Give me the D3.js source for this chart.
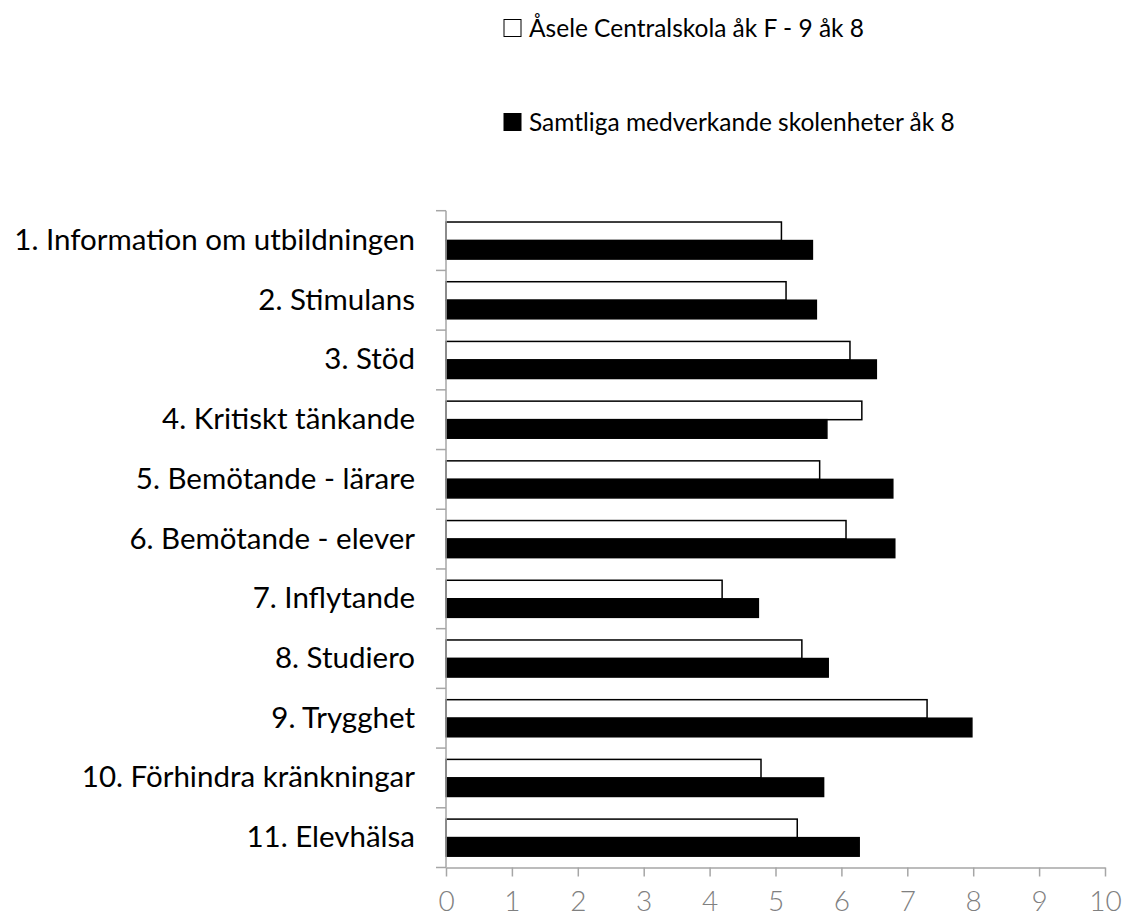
<!DOCTYPE html>
<html>
<head>
<meta charset="utf-8">
<script src="https://cdn.jsdelivr.net/npm/d3@7"></script>
<style>
  body { margin: 0; background: #fff; }
  text { font-family: Lato, "Noto Sans", sans-serif; }
</style>
</head>
<body>
<svg id="chart" width="1132" height="917"></svg>
<script>
const categories = [
  '1. Information om utbildningen',
  '2. Stimulans',
  '3. Stöd',
  '4. Kritiskt tänkande',
  '5. Bemötande - lärare',
  '6. Bemötande - elever',
  '7. Inflytande',
  '8. Studiero',
  '9. Trygghet',
  '10. Förhindra kränkningar',
  '11. Elevhälsa'
];

const seriesNames = [
  'Åsele Centralskola åk F - 9 åk 8',
  'Samtliga medverkande skolenheter åk 8'
];

const skolaValues = [5.09, 5.16, 6.13, 6.31, 5.67, 6.07, 4.19, 5.40, 7.30, 4.78, 5.33];
const samtligaValues = [5.56, 5.62, 6.53, 5.78, 6.78, 6.81, 4.74, 5.80, 7.98, 5.73, 6.27];

const xTicks = [0, 1, 2, 3, 4, 5, 6, 7, 8, 9, 10];

const fills = ['#ffffff', '#000000'];

const svg = d3.select('#chart');

let x = d3.scaleLinear()
  .domain([0, 10])
  .range([446, 1105]);

let y = d3.scaleBand()
  .domain(categories)
  .range([210.7, 867.5])
  .padding(0);

let ySeries = d3.scaleBand()
  .domain([0, 1])
  .range([0, y.step()])
  .paddingInner(0)
  .paddingOuter(0.61);

let rows = categories.map((c, i) => ({
  category: c,
  values: [skolaValues[i], samtligaValues[i]]
}));

// bars
let groups = svg.append('g')
  .selectAll('g')
  .data(rows)
  .join('g')
  .attr('transform', d => `translate(0,${y(d.category)})`);

groups.selectAll('rect')
  .data(d => d.values.map((v, s) => ({ v, s })))
  .join('rect')
  .attr('x', x(0))
  .attr('y', d => ySeries(d.s))
  .attr('width', d => x(d.v) - x(0))
  .attr('height', ySeries.bandwidth())
  .attr('fill', d => fills[d.s])
  .attr('stroke', '#000')
  .attr('stroke-width', 1.5);

// y axis line and boundary ticks
let axisColor = '#a6a6a6';
let yTop = y.range()[0];
let yBottom = y.range()[1];

svg.append('line')
  .attr('x1', x(0)).attr('x2', x(0))
  .attr('y1', yTop).attr('y2', yBottom)
  .attr('stroke', axisColor)
  .attr('stroke-width', 1.5);

svg.append('g')
  .selectAll('line')
  .data(d3.range(categories.length + 1))
  .join('line')
  .attr('x1', x(0) - 10).attr('x2', x(0))
  .attr('y1', i => yTop + i * y.step())
  .attr('y2', i => yTop + i * y.step())
  .attr('stroke', axisColor)
  .attr('stroke-width', 1.5);

// category labels
let yAxis = svg.append('g')
  .attr('transform', `translate(${x(0)},0)`)
  .call(d3.axisLeft(y).tickSize(0).tickPadding(31));

yAxis.select('.domain').remove();
yAxis.selectAll('text')
  .attr('font-family', 'Lato, "Noto Sans", sans-serif')
  .attr('font-size', 29.5)
  .attr('fill', '#000');

// x axis
let xAxis = svg.append('g')
  .attr('transform', `translate(0,${yBottom})`)
  .call(d3.axisBottom(x).tickValues(xTicks).tickSize(9).tickPadding(15).tickSizeOuter(0));

xAxis.select('.domain')
  .attr('stroke', axisColor)
  .attr('stroke-width', 1.5);
xAxis.selectAll('.tick line')
  .attr('stroke', axisColor)
  .attr('stroke-width', 1.5);
xAxis.selectAll('text')
  .attr('font-family', 'Lato, "Noto Sans", sans-serif')
  .attr('font-weight', 300)
  .attr('font-size', 28)
  .attr('fill', '#808080');

// legend
let legend = svg.append('g')
  .selectAll('g')
  .data(seriesNames)
  .join('g')
  .attr('transform', (d, i) => `translate(504,${28 + i * 94})`);

legend.append('rect')
  .attr('x', 0)
  .attr('y', -8.5)
  .attr('width', 17)
  .attr('height', 17)
  .attr('fill', (d, i) => fills[i])
  .attr('stroke', '#000')
  .attr('stroke-width', 1);

legend.append('text')
  .attr('x', 25)
  .attr('y', 0)
  .attr('dy', '0.35em')
  .attr('font-size', 24.5)
  .attr('fill', '#000')
  .text(d => d);
</script>
</body>
</html>
